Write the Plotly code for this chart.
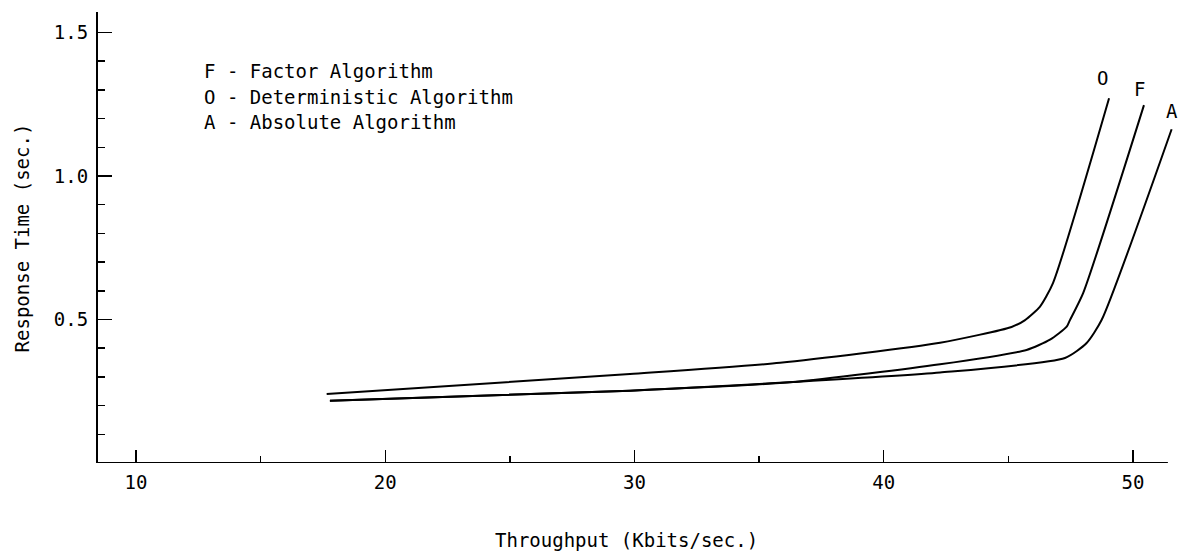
import plotly.graph_objects as go

# Throughput (Kbits/sec.) vs Response Time (sec.)
x_O = [17.65, 29.82, 35.84, 42.26, 45.13, 45.67, 46.27, 46.79, 49.04]
y_O = [0.240, 0.310, 0.349, 0.419, 0.474, 0.498, 0.545, 0.627, 1.271]

x_F = [17.78, 29.82, 36.36, 42.26, 45.73, 46.67, 47.34, 47.47, 48.00, 50.44]
y_F = [0.217, 0.252, 0.282, 0.344, 0.394, 0.430, 0.475, 0.498, 0.592, 1.247]

x_A = [17.78, 29.82, 36.36, 42.26, 47.27, 48.14, 48.74, 51.55]
y_A = [0.217, 0.252, 0.282, 0.315, 0.366, 0.418, 0.498, 1.163]

series = [("O", x_O, y_O, -7, 20), ("F", x_F, y_F, -4, 16), ("A", x_A, y_A, 0, 18)]

legend_lines = ["F - Factor Algorithm",
                "O - Deterministic Algorithm",
                "A - Absolute Algorithm"]

x_ticks = [10, 20, 30, 40, 50]
y_ticks = [0.5, 1.0, 1.5]
y_tick_text = [f"{v:.1f}" for v in y_ticks]

FONT = "DejaVu Sans Mono"
W, H = 1180, 555
L, R, T, B = 98, 0, 12, 92
X_RANGE = [8.4755, 51.886]
Y_RANGE = [0.0, 1.5714]

fig = go.Figure()
for name, xs, ys, dx, dy in series:
    fig.add_trace(go.Scatter(x=xs, y=ys, mode="lines", name=name,
                             line=dict(color="black", width=2, shape="spline", smoothing=0.6),
                             showlegend=False, hoverinfo="skip"))
    fig.add_annotation(x=xs[-1], y=ys[-1], text=name, showarrow=False,
                       xshift=dx, yshift=dy, font=dict(family=FONT, size=19, color="black"))

# legend text block
row_y = [0.870, 0.8126, 0.755]
for txt, yy in zip(legend_lines, row_y):
    fig.add_annotation(x=0.0961, y=yy, xref="paper", yref="paper", text=txt,
                       showarrow=False, xanchor="left", yanchor="middle",
                       font=dict(family=FONT, size=19, color="black"))

# axis titles
fig.add_annotation(x=0.488, y=-0.1707, xref="paper", yref="paper",
                   text="Throughput (Kbits/sec.)", showarrow=False,
                   xanchor="center", yanchor="middle",
                   font=dict(family=FONT, size=19, color="black"))
fig.add_annotation(x=-0.0703, y=0.5, xref="paper", yref="paper",
                   text="Response Time (sec.)", showarrow=False, textangle=-90,
                   xanchor="center", yanchor="middle",
                   font=dict(family=FONT, size=19, color="black"))

# x axis line (ends short of the right edge as in the original)
fig.add_shape(type="line", xref="x", yref="y", x0=X_RANGE[0], x1=51.40, y0=0, y1=0,
              line=dict(color="black", width=2))

fig.update_layout(
    width=W, height=H,
    margin=dict(l=L, r=R, t=T, b=B),
    paper_bgcolor="white", plot_bgcolor="white",
    xaxis=dict(range=X_RANGE, tickmode="array", tickvals=x_ticks,
               ticks="inside", ticklen=13, tickwidth=1.5, tickcolor="black",
               showline=False, showgrid=False, zeroline=False,
               tickfont=dict(family=FONT, size=19, color="black"),
               ticklabelstandoff=6,
               minor=dict(tickmode="array", tickvals=[15, 25, 35, 45], ticks="inside",
                          ticklen=7, tickwidth=1.5, tickcolor="black", showgrid=False)),
    yaxis=dict(range=Y_RANGE, tickmode="array", tickvals=y_ticks, ticktext=y_tick_text,
               ticks="inside", ticklen=14, tickwidth=1.5, tickcolor="black",
               showline=True, linecolor="black", linewidth=2,
               showgrid=False, zeroline=False,
               tickfont=dict(family=FONT, size=19, color="black"),
               ticklabelstandoff=4,
               minor=dict(tickmode="array",
                          tickvals=[0.1, 0.2, 0.3, 0.4, 0.6, 0.7, 0.8, 0.9, 1.1, 1.2, 1.3, 1.4],
                          ticks="inside", ticklen=7, tickwidth=1.5, tickcolor="black",
                          showgrid=False)),
)

fig.write_html("out.html",
               config={"displayModeBar": False, "staticPlot": True},
               post_script="document.body.style.margin='0';document.body.style.overflow='hidden';")
